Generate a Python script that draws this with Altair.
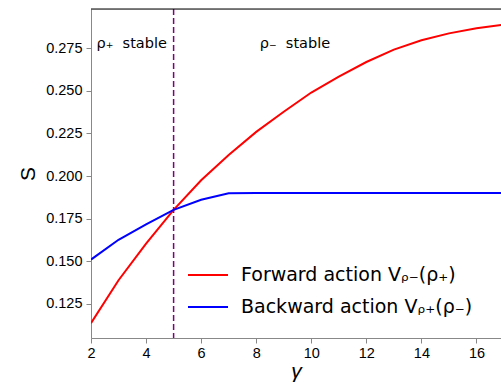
import altair as alt
import pandas as pd

gamma = [2, 3, 4, 5, 6, 7, 8, 9, 10, 11, 12, 13, 14, 15, 16, 17]
forward = [0.1137, 0.1389, 0.1604, 0.1802, 0.1975, 0.2123, 0.2259, 0.2377,
           0.2490, 0.2583, 0.2669, 0.2742, 0.2797, 0.2837, 0.2867, 0.2888]
backward = [0.1510, 0.1626, 0.1716, 0.1802, 0.1861, 0.1899, 0.1900, 0.1900,
            0.1900, 0.1900, 0.1900, 0.1900, 0.1900, 0.1900, 0.1900, 0.1900]

fwd_label = "Forward action Vᵨ₋(ρ₊)"
bwd_label = "Backward action Vᵨ₊(ρ₋)"
series_names = [fwd_label, bwd_label]
series_colors = ["#ff0000", "#0000ff"]

transition_gamma = [5]
note_x = [2.2, 8.13]
note_y = [0.275, 0.275]
note_text = ["ρ₊\u00a0 stable", "ρ₋\u00a0 stable"]

x_ticks = [2, 4, 6, 8, 10, 12, 14, 16]
y_ticks = [0.125, 0.150, 0.175, 0.200, 0.225, 0.250, 0.275]
x_domain = [2, 16.89]
y_domain = [0.105, 0.298]

FONT = "DejaVu Sans"

lines_df = pd.DataFrame({
    "gamma": gamma * 2,
    "S": forward + backward,
    "series": [fwd_label] * len(gamma) + [bwd_label] * len(gamma),
})
vline_df = pd.DataFrame({"gamma": transition_gamma})
notes_df = pd.DataFrame({"gamma": note_x, "S": note_y, "text": note_text})

x_scale = alt.Scale(domain=x_domain, nice=False, zero=False)
y_scale = alt.Scale(domain=y_domain, nice=False, zero=False)

lines = alt.Chart(lines_df).mark_line(strokeWidth=2, clip=True).encode(
    x=alt.X("gamma:Q", scale=x_scale,
            axis=alt.Axis(values=x_ticks, format="d", title="γ", grid=False,
                          titleFontStyle="italic", titleFontSize=21,
                          titleFontWeight="normal", labelFontSize=14.5,
                          tickSize=5, labelPadding=3, titlePadding=1,
                          labelFlush=False)),
    y=alt.Y("S:Q", scale=y_scale,
            axis=alt.Axis(values=y_ticks, format=".3f", title="S", grid=False,
                          titleFontSize=21, titleFontWeight="normal",
                          labelFontSize=14.5, tickSize=5, labelPadding=4,
                          titlePadding=7)),
    color=alt.Color("series:N",
                    scale=alt.Scale(domain=series_names, range=series_colors),
                    legend=alt.Legend(title=None, orient="none", legendX=96,
                                      legendY=245, symbolType="stroke",
                                      symbolSize=1600, symbolStrokeWidth=2,
                                      labelFontSize=19, labelFont=FONT,
                                      labelColor="black", rowPadding=1,
                                      labelOffset=12, padding=0,
                                      labelLimit=400)),
    order=alt.value(0),
)

vline = alt.Chart(vline_df).mark_rule(color="#800080", strokeDash=[6, 3],
                                      strokeWidth=1.5).encode(
    x=alt.X("gamma:Q", scale=x_scale, axis=alt.Axis(grid=False)))

notes = alt.Chart(notes_df).mark_text(align="left", baseline="alphabetic",
                                      fontSize=14.5, font=FONT, color="black").encode(
    x=alt.X("gamma:Q", scale=x_scale),
    y=alt.Y("S:Q", scale=y_scale),
    text="text:N",
)

top_spine = alt.Chart(vline_df).mark_rule(color="black", strokeWidth=1).encode(
    x=alt.value(0), x2=alt.value(410), y=alt.value(0)
)

chart = alt.layer(vline, lines, notes, top_spine).properties(
    width=410, height=329, autosize="none",
    padding={"left": 91, "top": 9, "right": 0, "bottom": 47},
).configure_view(stroke=None).configure_axis(
    domainColor="black", tickColor="black", labelColor="black",
    titleColor="black", labelFont=FONT, titleFont=FONT, grid=False,
    domainWidth=1, tickWidth=1,
).configure(background="white")

chart.save("out.html", embed_options={"renderer": "svg", "actions": False})
